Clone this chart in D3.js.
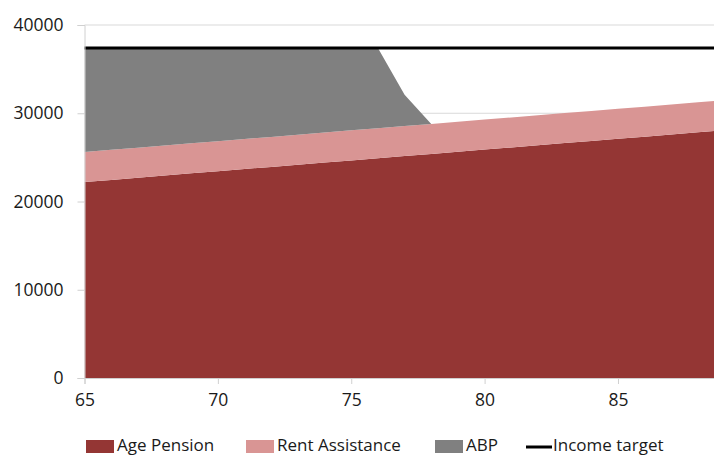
<!DOCTYPE html>
<html><head><meta charset="utf-8">
<script src="https://cdn.jsdelivr.net/npm/d3@7"></script>
<style>html,body{margin:0;padding:0;background:#fff;}svg{display:block;}</style>
</head><body>
<svg id="chart" width="714" height="456"></svg>
<script>
const ages = [65,66,67,68,69,70,71,72,73,74,75,76,77,78,79,80,81,82,83,84,85,86,87,88,89];
const agePension = [22200,22450,22700,22940,23190,23430,23680,23920,24170,24410,24660,24900,25150,25390,25640,25880,26130,26370,26620,26860,27110,27350,27600,27840,28090];
const rentAssistance = [3400,3400,3400,3400,3400,3400,3400,3400,3400,3400,3400,3400,3400,3400,3400,3400,3400,3400,3400,3400,3400,3400,3400,3400,3400];
const abp = [11800,11550,11300,11060,10810,10570,10320,10080,9830,9590,9340,9100,3550,0,0,0,0,0,0,0,0,0,0,0,0];
const incomeTarget = 37400;
const yTicks = [0,10000,20000,30000,40000];
const xTicks = [65,70,75,80,85];
const seriesNames = ["Age Pension","Rent Assistance","ABP"];
const legendLabels = ["Age Pension","Rent Assistance","ABP","Income target"];
const colors = ["#943634","#d99594","#808080"];

const svg = d3.select("#chart");
const x = d3.scaleLinear().domain([65,88.6]).range([84.5,714]);
const y = d3.scaleLinear().domain([0,40000]).range([378,25]);
const font = "'Open Sans', 'Noto Sans', sans-serif";

const table = ages.map((a,i)=>({age:a,"Age Pension":agePension[i],"Rent Assistance":rentAssistance[i],"ABP":abp[i]}));
const stack = d3.stack().keys(seriesNames)(table);

// gridlines
svg.append("g").selectAll("line").data(yTicks.filter(d=>d>0)).join("line")
  .attr("x1",x(65)).attr("x2",714).attr("y1",d=>y(d)).attr("y2",d=>y(d))
  .attr("stroke","#d9d9d9").attr("stroke-width",1.2);

svg.append("defs").append("clipPath").attr("id","clip").append("rect")
  .attr("x",x(65)).attr("y",0).attr("width",714-x(65)).attr("height",456);

const area = d3.area().x(d=>x(d.data.age)).y0(d=>y(d[0])).y1(d=>y(d[1]));
svg.append("g").attr("clip-path","url(#clip)").selectAll("path").data(stack).join("path")
  .attr("d",area).attr("fill",(d,i)=>colors[i]);

// income target
svg.append("line").attr("x1",x(65)).attr("x2",714).attr("y1",y(incomeTarget)).attr("y2",y(incomeTarget))
  .attr("stroke","#000").attr("stroke-width",3);

// y axis
const yAxis = d3.axisLeft(y).tickValues(yTicks).tickSize(7).tickPadding(14).tickFormat(d3.format("d"));
const gy = svg.append("g").attr("transform",`translate(${x(65)},0)`).call(yAxis);
gy.select(".domain").attr("stroke","#d0d0d0");
gy.selectAll(".tick line").attr("stroke","#d0d0d0");
gy.selectAll("text").attr("font-family",font).attr("font-size",17.5).attr("fill","#1a1a1a");

// x axis
const xAxis = d3.axisBottom(x).tickValues(xTicks).tickSize(6).tickPadding(10).tickFormat(d3.format("d"));
const gx = svg.append("g").attr("transform",`translate(0,${y(0)})`).call(xAxis);
gx.select(".domain").attr("stroke","#d0d0d0");
gx.selectAll(".tick line").attr("stroke","#d0d0d0");
gx.selectAll("text").attr("font-family",font).attr("font-size",17.5).attr("fill","#1a1a1a");

// legend
const legX = [86,246,435,526];
const lg = svg.append("g");
legendLabels.forEach((lab,i)=>{
  if(i<3){
    lg.append("rect").attr("x",legX[i]).attr("y",440).attr("width",28).attr("height",13).attr("fill",colors[i]);
  } else {
    lg.append("line").attr("x1",legX[i]).attr("x2",legX[i]+26).attr("y1",447).attr("y2",447)
      .attr("stroke","#000").attr("stroke-width",3);
  }
  lg.append("text").attr("x",legX[i]+(i<3?31:27)).attr("y",451).text(lab)
    .attr("font-family",font).attr("font-size",17).attr("fill","#1a1a1a");
});
</script>
</body></html>
